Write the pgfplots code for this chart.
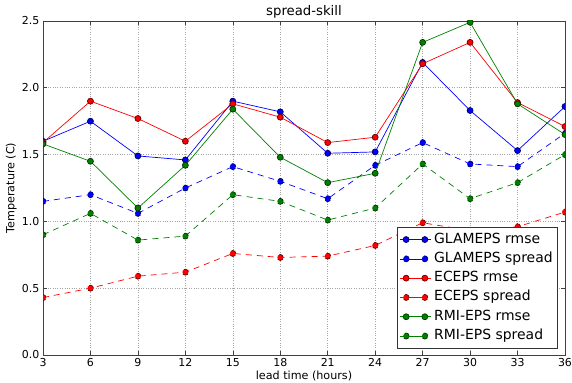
\documentclass[border=0pt]{standalone}
\usepackage{fontspec}
\setmainfont{DejaVu Sans}
\usepackage{pgfplots}
\pgfplotsset{compat=1.18}
\usepackage{pgfplotstable}
\definecolor{mgreen}{rgb}{0,0.5,0}
\pgfplotstableread{
x Grmse Gspr Ermse Espr Rrmse Rspr
3 1.60 1.15 1.59 0.43 1.58 0.90
6 1.75 1.20 1.90 0.50 1.45 1.06
9 1.49 1.06 1.77 0.59 1.10 0.86
12 1.46 1.25 1.60 0.62 1.42 0.89
15 1.90 1.41 1.88 0.76 1.84 1.20
18 1.82 1.30 1.78 0.73 1.48 1.15
21 1.51 1.17 1.59 0.74 1.29 1.01
24 1.52 1.42 1.63 0.82 1.36 1.10
27 2.19 1.59 2.18 0.99 2.34 1.43
30 1.83 1.43 2.34 0.93 2.49 1.17
33 1.53 1.41 1.89 0.96 1.88 1.29
36 1.86 1.66 1.71 1.07 1.65 1.50
}\data
\begin{document}
\fontsize{10.5}{12}\selectfont
\begin{tikzpicture}
\begin{axis}[
  name=ax,
  scale only axis,
  width=522bp, height=334bp,
  xmin=3, xmax=36, ymin=0, ymax=2.5,
  xtick={3,6,...,36},
  ytick={0,0.5,1,1.5,2,2.5},
  yticklabel style={/pgf/number format/.cd,fixed,fixed zerofill,precision=1},
  /pgf/number format/assume math mode=true,
  tick label style={font=\fontsize{11}{12}\selectfont},
  label style={font=\fontsize{11.2}{12}\selectfont},
  title style={font=\fontsize{13.3}{15}\selectfont, yshift=-7bp},
  title={spread-skill},
  xlabel={lead time (hours)},
  ylabel={Temperature (C)},
  xlabel style={yshift=3bp},
  ylabel style={yshift=-2bp},
  grid=major,
  major grid style={gray!70, dotted, line width=0.6bp},
  axis line style={black!75, line width=0.8bp},
  tick style={black!75, line width=0.6bp},
  major tick length=4bp,
  tick align=inside,
  clip marker paths=true,
  every axis plot/.append style={line width=0.7bp, mark=*, mark size=3bp,
     mark options={solid, line width=0.4bp}},
  legend image code/.code={\path (-6bp,0bp) -- (24.7bp,0bp);
     \draw plot coordinates {(0bp,0bp) (18.7bp,0bp)};},
  legend style={at={(axis description cs:1,0)}, anchor=south east,
     xshift=-7bp, yshift=6bp, draw=black!80, line width=0.6bp, fill=white,
     font=\fontsize{14}{15}\selectfont,
     nodes={inner xsep=3bp, inner ysep=3.15bp, text height=10bp, text depth=3bp},
     inner xsep=2bp, inner ysep=3bp, row sep=0pt},
  legend cell align=left,
]
\addplot[blue, mark options={fill=blue, draw=blue!40!black}] table[x=x,y=Grmse]{\data};
\addlegendentry{GLAMEPS rmse}
\addplot[blue, dash pattern=on 6bp off 5bp, mark options={fill=blue, draw=blue!40!black}] table[x=x,y=Gspr]{\data};
\addlegendentry{GLAMEPS spread}
\addplot[red, mark options={fill=red, draw=red!40!black}] table[x=x,y=Ermse]{\data};
\addlegendentry{ECEPS rmse}
\addplot[red, dash pattern=on 6bp off 5bp, mark options={fill=red, draw=red!40!black}] table[x=x,y=Espr]{\data};
\addlegendentry{ECEPS spread}
\addplot[mgreen, mark options={fill=mgreen, draw=mgreen!40!black}] table[x=x,y=Rrmse]{\data};
\addlegendentry{RMI-EPS rmse}
\addplot[mgreen, dash pattern=on 6bp off 5bp, mark options={fill=mgreen, draw=mgreen!40!black}] table[x=x,y=Rspr]{\data};
\addlegendentry{RMI-EPS spread}
\end{axis}
\pgfresetboundingbox
\path[use as bounding box] ([shift={(-43bp,-28bp)}]ax.south west) rectangle ([shift={(7bp,21bp)}]ax.north east);
\end{tikzpicture}
\end{document}
